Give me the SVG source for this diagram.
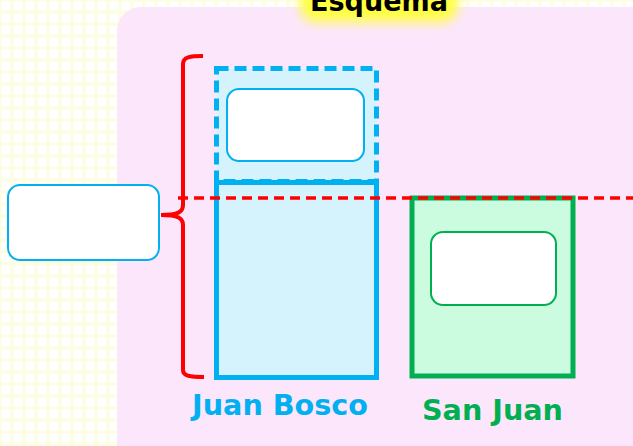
<svg xmlns="http://www.w3.org/2000/svg" width="633" height="446" viewBox="0 0 633 446">
<defs>
<pattern id="grid" width="12" height="12" patternUnits="userSpaceOnUse">
<rect width="12" height="12" fill="#fdfde0"/>
<rect x="1.5" y="1.5" width="9" height="9" fill="#ffffff"/>
</pattern>
<filter id="glow" x="-30%" y="-60%" width="160%" height="220%">
<feGaussianBlur stdDeviation="6"/>
</filter>
<style>
.box{fill:#ffffff;stroke-width:2}
.blue{stroke:#00b0f0}
.green{stroke:#00b050}
.lbl{font-family:"DejaVu Sans","Liberation Sans",sans-serif;font-weight:bold;font-size:28px;text-anchor:middle}
</style>
</defs>
<rect width="633" height="446" fill="url(#grid)"/>
<rect id="panel" x="117" y="7" width="540" height="460" rx="24" fill="#fce6fc"/>
<g id="title">
<rect x="300" y="-20" width="158" height="42" rx="16" fill="#ffff40" filter="url(#glow)"/>
<text x="379" y="11" font-family="'DejaVu Sans',sans-serif" font-weight="bold" font-size="28" text-anchor="middle" textLength="138" lengthAdjust="spacingAndGlyphs" fill="#000">Esquema</text>
</g>
<g id="juan-bosco-upper">
<rect x="216.5" y="68.5" width="160" height="113" fill="#d5f3fc" stroke="#00b0f0" stroke-width="5" stroke-dasharray="12,6"/>
<rect class="box blue" x="227" y="89" width="137" height="72" rx="12"/>
</g>
<g id="juan-bosco">
<rect x="216.5" y="182.5" width="160" height="195" fill="#d5f3fc" stroke="#00b0f0" stroke-width="5"/>
<text class="lbl" x="280" y="415" fill="#00b0f0" textLength="176" lengthAdjust="spacingAndGlyphs">Juan Bosco</text>
</g>
<g id="san-juan">
<rect x="412" y="198" width="161" height="178" fill="#ccfce0" stroke="#00b050" stroke-width="5"/>
<rect class="box green" x="431" y="232" width="125" height="73" rx="12"/>
<text class="lbl" x="492.5" y="420" fill="#00b050" textLength="141" lengthAdjust="spacingAndGlyphs">San Juan</text>
</g>
<g id="left-box">
<rect class="box blue" x="8" y="185" width="151" height="75" rx="12"/>
</g>
<g id="connectors">
<path d="M203,56 C190,56 183,57 183,64 L183,205 C183,212 178,215 161,215 C178,215 183,218 183,225 L183,370 C183,376 190,377 204,377" fill="none" stroke="#ff0000" stroke-width="4"/>
<line x1="178" y1="198" x2="633" y2="198" stroke="#ff0000" stroke-width="3.5" stroke-dasharray="10,6"/>
</g>
</svg>
